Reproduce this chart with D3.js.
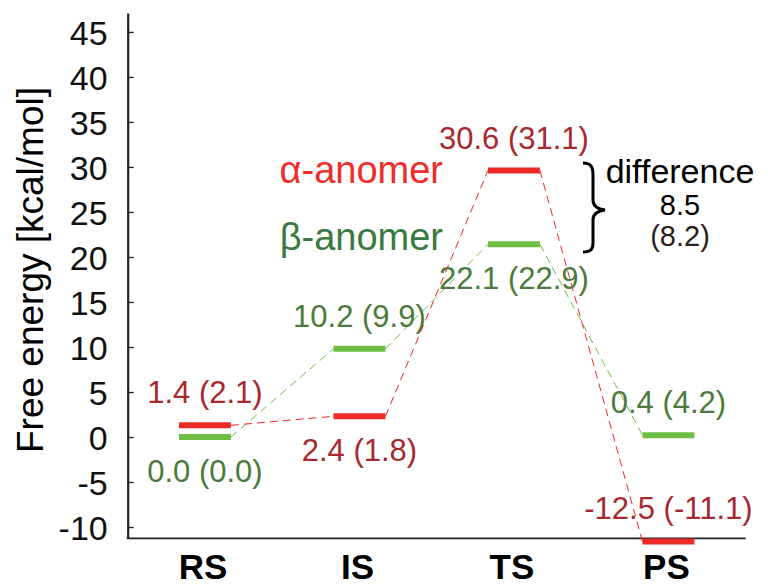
<!DOCTYPE html>
<html>
<head>
<meta charset="utf-8">
<script src="https://cdn.jsdelivr.net/npm/d3@7"></script>
<style>
  html, body { margin: 0; padding: 0; background: #ffffff; }
  svg { display: block; }
</style>
</head>
<body>
<svg id="chart" width="768" height="587"></svg>
<script>
// states along the reaction path
const states = ["RS", "IS", "TS", "PS"];

// level heights as drawn (kcal/mol)
const alphaLevels = [1.3, 2.3, 29.6, -11.6];
const betaLevels = [0.0, 9.8, 21.4, 0.2];

// energies written next to each level, value in brackets
const alphaLabels = ["1.4 (2.1)", "2.4 (1.8)", "30.6 (31.1)", "-12.5 (-11.1)"];
const betaLabels = ["0.0 (0.0)", "10.2 (9.9)", "22.1 (22.9)", "0.4 (4.2)"];

const yTicks = [-10, -5, 0, 5, 10, 15, 20, 25, 30, 35, 40, 45];

const barrierDiff = ["difference", "8.5", "(8.2)"];

// -1 = label above the level, 1 = below
const alphaSide = [-1, 1, -1, -1];
const betaSide = [1, -1, 1, -1];

const FONT = "'Liberation Sans', Arial, Helvetica, sans-serif";

const colors = {
  alphaBar: "#ee2a26",
  betaBar: "#6fbf45",
  alphaText: "#a6292f",
  betaText: "#4b7b3b",
  alphaLegend: "#ef2d2b",
  betaLegend: "#3a7a3e"
};

const svg = d3.select("#chart");

const plotLeft = 127.7, plotRight = 745.7, plotTop = 13, plotBottom = 538.3;

const x = d3.scalePoint()
  .domain(states)
  .range([plotLeft, plotRight])
  .padding(0.5);

const y = d3.scaleLinear()
  .domain([-11.25, 47.1])
  .range([plotBottom, plotTop]);

const halfBar = 26;

// y axis
const yAxis = svg.append("g")
  .attr("transform", `translate(${plotLeft},0)`)
  .call(d3.axisLeft(y)
    .tickValues(yTicks)
    .tickFormat(d => String(d))
    .tickSize(-6)
    .tickSizeOuter(0)
    .tickPadding(20));

yAxis.select(".domain")
  .attr("stroke", "#222")
  .attr("stroke-width", 2.2);

yAxis.selectAll(".tick line")
  .attr("stroke", "#222")
  .attr("stroke-width", 1.3);

yAxis.selectAll(".tick text")
  .attr("font-family", FONT)
  .attr("font-size", 34)
  .attr("fill", "#111")
  .attr("dy", "0.36em");

// bottom line
svg.append("line")
  .attr("x1", plotLeft - 1)
  .attr("x2", plotRight)
  .attr("y1", plotBottom)
  .attr("y2", plotBottom)
  .attr("stroke", "#222")
  .attr("stroke-width", 1.8);

svg.selectAll(".state-label")
  .data(states)
  .enter()
  .append("text")
  .attr("class", "state-label")
  .attr("x", d => x(d) - 2)
  .attr("y", 579)
  .attr("text-anchor", "middle")
  .attr("font-family", FONT)
  .attr("font-weight", "bold")
  .attr("font-size", 35)
  .attr("fill", "#000")
  .text(d => d);

svg.append("text")
  .attr("transform", "translate(43,270) rotate(-90)")
  .attr("text-anchor", "middle")
  .attr("font-family", FONT)
  .attr("font-size", 37)
  .attr("fill", "#000")
  .text("Free energy [kcal/mol]");

function drawPath(levels, labels, sides, barColor, textColor) {
  const g = svg.append("g");

  // dashed connectors from right end of one level to left end of the next
  for (let i = 0; i < levels.length - 1; i++) {
    g.append("line")
      .attr("x1", x(states[i]) + halfBar)
      .attr("y1", y(levels[i]))
      .attr("x2", x(states[i + 1]) - halfBar)
      .attr("y2", y(levels[i + 1]))
      .attr("stroke", barColor)
      .attr("stroke-width", 1)
      .attr("stroke-dasharray", "8,5");
  }

  g.selectAll(".level")
    .data(levels)
    .enter()
    .append("line")
    .attr("x1", (d, i) => x(states[i]) - halfBar)
    .attr("x2", (d, i) => x(states[i]) + halfBar)
    .attr("y1", d => y(d))
    .attr("y2", d => y(d))
    .attr("stroke", barColor)
    .attr("stroke-width", 6);

  g.selectAll(".value")
    .data(labels)
    .enter()
    .append("text")
    .attr("x", (d, i) => x(states[i]))
    .attr("y", (d, i) => y(levels[i]) + (sides[i] < 0 ? -22 : 45))
    .attr("text-anchor", "middle")
    .attr("font-family", FONT)
    .attr("font-size", 31)
    .attr("fill", textColor)
    .text(d => d);
}

drawPath(betaLevels, betaLabels, betaSide, colors.betaBar, colors.betaText);
drawPath(alphaLevels, alphaLabels, alphaSide, colors.alphaBar, colors.alphaText);

// legend
svg.append("text")
  .attr("x", 443)
  .attr("y", 183)
  .attr("text-anchor", "end")
  .attr("font-family", FONT)
  .attr("font-size", 38)
  .attr("fill", colors.alphaLegend)
  .text("\u03b1-anomer");

svg.append("text")
  .attr("x", 443)
  .attr("y", 250)
  .attr("text-anchor", "end")
  .attr("font-family", FONT)
  .attr("font-size", 38)
  .attr("fill", colors.betaLegend)
  .text("\u03b2-anomer");

// brace + barrier difference
svg.append("path")
  .attr("d", "M583,163 C591,163 593,167 593,175 L593,200 C593,206 597,209 605,210 C597,211 593,214 593,220 L593,243 C593,249 591,252 583,252")
  .attr("fill", "none")
  .attr("stroke", "#000")
  .attr("stroke-width", 3);

svg.selectAll(".diff")
  .data(barrierDiff)
  .enter()
  .append("text")
  .attr("x", 680)
  .attr("y", (d, i) => [183, 215, 246][i])
  .attr("text-anchor", "middle")
  .attr("font-family", FONT)
  .attr("font-size", (d, i) => i === 0 ? 34 : 29)
  .attr("fill", (d, i) => i === 2 ? "#2a2020" : "#000")
  .text(d => d);
</script>
</body>
</html>
